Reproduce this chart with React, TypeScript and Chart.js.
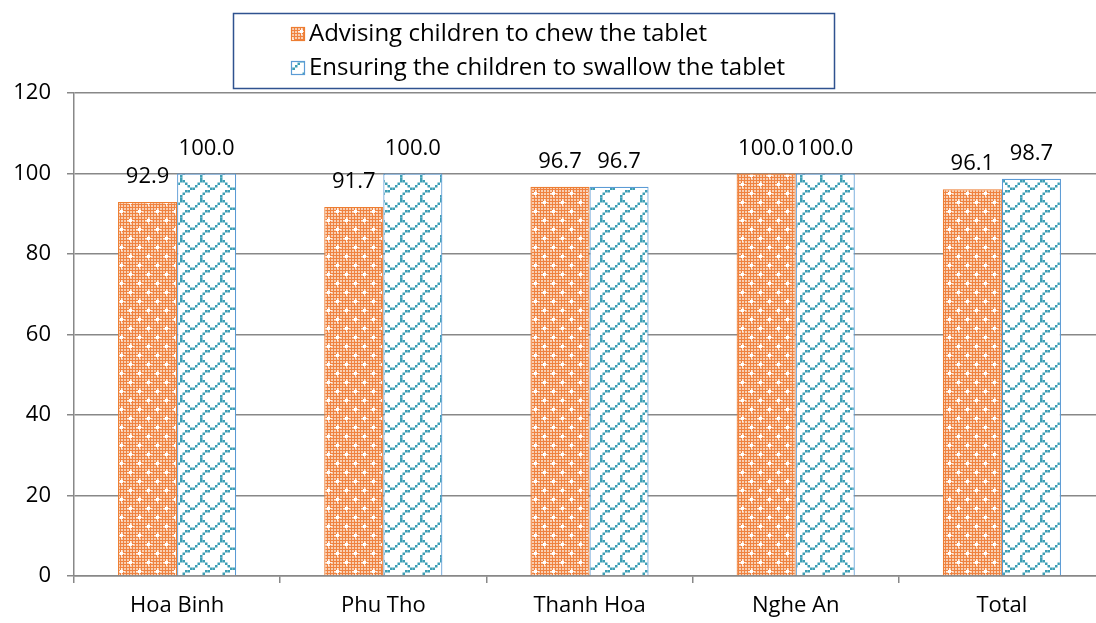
import React, { useEffect, useRef } from 'react';
import { Chart, registerables } from 'chart.js';

Chart.register(...registerables);

const categories = ['Hoa Binh', 'Phu Tho', 'Thanh Hoa', 'Nghe An', 'Total'];
const chewValues = [92.9, 91.7, 96.7, 100.0, 96.1];
const swallowValues = [100.0, 100.0, 96.7, 100.0, 98.7];
const seriesLabels = [
  'Advising children to chew the tablet',
  'Ensuring the children to swallow the tablet',
];
const yMin = 0;
const yMax = 120;
const yStep = 20;

const FONT = '"Open Sans", "Noto Sans", sans-serif';
const FONT_SIZE = 22;
const LEGEND_FONT_SIZE = 24;
const GRID = '#888888';

// Office "shingle" hatch bitmap (8x8)
const SHINGLE = [0x03, 0x84, 0x48, 0x30, 0x0c, 0x02, 0x01, 0x01];

function makeOrangePattern(ctx: CanvasRenderingContext2D) {
  const S = 18;
  const c = document.createElement('canvas');
  c.width = S;
  c.height = S;
  const g = c.getContext('2d')!;
  g.fillStyle = '#EF8240';
  g.fillRect(0, 0, S, S);
  g.fillStyle = '#F9CFB2';
  for (let y = 1; y < S; y += 3) for (let x = 1; x < S; x += 3) g.fillRect(x, y, 2, 2);
  const cross = (cx: number, cy: number) => {
    g.fillStyle = 'rgba(255,255,255,0.75)';
    g.fillRect(cx - 3, cy, 7, 1);
    g.fillRect(cx, cy - 3, 1, 7);
    g.fillStyle = '#FFFFFF';
    g.fillRect(cx - 1, cy - 1, 3, 3);
  };
  cross(4, 4);
  cross(13, 13);
  return ctx.createPattern(c, 'repeat')!;
}

function makeBluePattern(ctx: CanvasRenderingContext2D) {
  const scale = 2.5;
  const S = 8 * scale;
  const c = document.createElement('canvas');
  c.width = S;
  c.height = S;
  const g = c.getContext('2d')!;
  g.fillStyle = '#FFFFFF';
  g.fillRect(0, 0, S, S);
  g.fillStyle = '#3E9FB5';
  for (let y = 0; y < 8; y++) {
    for (let x = 0; x < 8; x++) {
      if ((SHINGLE[y] >> x) & 1) g.fillRect(x * scale, y * scale, scale, scale);
    }
  }
  return ctx.createPattern(c, 'repeat')!;
}

export default function App() {
  const ref = useRef<HTMLCanvasElement | null>(null);

  useEffect(() => {
    const canvas = ref.current!;
    const ctx = canvas.getContext('2d')!;
    document.body.style.overflow = 'hidden';
    const orange = makeOrangePattern(ctx);
    const blue = makeBluePattern(ctx);

    const legendPlugin = {
      id: 'customLegend',
      afterDraw(chart: any) {
        const c = chart.ctx as CanvasRenderingContext2D;
        c.save();
        c.strokeStyle = '#2F528F';
        c.lineWidth = 1.5;
        c.strokeRect(233.5, 13.5, 601, 75);
        const items = [
          { fill: orange, border: '#ED7D31', y: 27, text: seriesLabels[0] },
          { fill: blue, border: '#5B9BD5', y: 61, text: seriesLabels[1] },
        ];
        c.font = `${LEGEND_FONT_SIZE}px ${FONT}`;
        c.textBaseline = 'alphabetic';
        c.textAlign = 'left';
        for (const it of items) {
          c.fillStyle = it.fill;
          c.fillRect(291, it.y, 14, 14);
          c.strokeStyle = it.border;
          c.lineWidth = 1.2;
          c.strokeRect(291.5, it.y + 0.5, 13, 13);
          c.fillStyle = '#000';
          c.fillText(it.text, 309, it.y + 14);
        }
        c.restore();
      },
    };

    const labelPlugin = {
      id: 'valueLabels',
      afterDatasetsDraw(chart: any) {
        const c = chart.ctx as CanvasRenderingContext2D;
        c.save();
        c.font = `${FONT_SIZE}px ${FONT}`;
        c.fillStyle = '#000';
        c.textAlign = 'center';
        c.textBaseline = 'alphabetic';
        chart.data.datasets.forEach((ds: any, i: number) => {
          const meta = chart.getDatasetMeta(i);
          meta.data.forEach((el: any, j: number) => {
            c.fillText(Number(ds.data[j]).toFixed(1), el.x, el.y - 19);
          });
        });
        c.restore();
      },
    };

    const chart = new Chart(ctx, {
      type: 'bar',
      data: {
        labels: categories,
        datasets: [
          {
            label: seriesLabels[0],
            data: chewValues,
            backgroundColor: orange,
            borderColor: '#ED7D31',
            borderWidth: 1.2,
            categoryPercentage: 0.573,
            barPercentage: 1,
          },
          {
            label: seriesLabels[1],
            data: swallowValues,
            backgroundColor: blue,
            borderColor: '#5B9BD5',
            borderWidth: 1.2,
            categoryPercentage: 0.573,
            barPercentage: 1,
          },
        ],
      },
      options: {
        responsive: false,
        animation: false,
        layout: { padding: { top: 93, right: 1, left: 0, bottom: 0 } },
        plugins: {
          legend: { display: false },
          tooltip: { enabled: false },
        },
        scales: {
          x: {
            grid: {
              drawOnChartArea: false,
              drawTicks: true,
              tickLength: 7,
              color: GRID,
              lineWidth: 1.5,
              offset: true,
            },
            border: { display: true, color: GRID, width: 1.5 },
            ticks: {
              font: { family: FONT, size: FONT_SIZE },
              color: '#000',
              padding: 10,
              maxRotation: 0,
            },
            afterFit: (s: any) => {
              s.height = 47;
            },
          },
          y: {
            min: yMin,
            max: yMax,
            ticks: {
              stepSize: yStep,
              font: { family: FONT, size: FONT_SIZE },
              color: '#000',
              padding: 16,
            },
            grid: { color: GRID, lineWidth: 1.5, tickLength: 7 },
            border: { display: true, color: GRID, width: 1.5 },
            afterFit: (s: any) => {
              s.width = 74;
            },
          },
        },
      },
      plugins: [legendPlugin, labelPlugin],
    });

    return () => {
      chart.destroy();
    };
  }, []);

  return (
    <canvas
      ref={ref}
      width={1106}
      height={623}
      style={{ position: 'fixed', left: 0, top: 0, width: 1106, height: 623, background: '#fff' }}
    />
  );
}
